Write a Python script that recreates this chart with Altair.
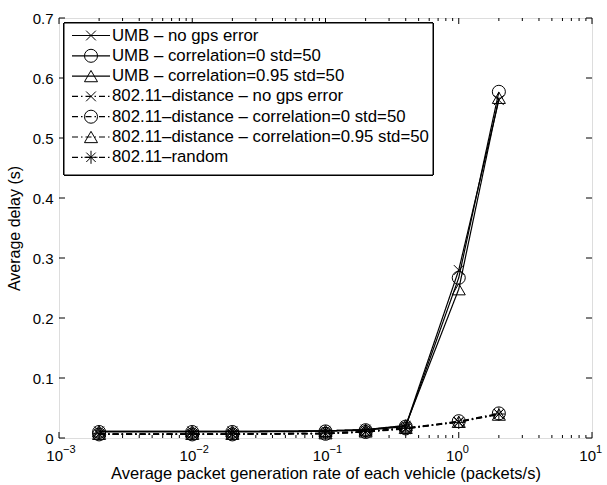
import altair as alt
import pandas as pd

# ---------------- data ----------------
rates = [0.002, 0.01, 0.02, 0.1, 0.2, 0.4, 1, 2]
series_names = [
    "UMB \u2013 no gps error",
    "UMB \u2013 correlation=0 std=50",
    "UMB \u2013 correlation=0.95 std=50",
    "802.11\u2013distance \u2013 no gps error",
    "802.11\u2013distance \u2013 correlation=0 std=50",
    "802.11\u2013distance \u2013 correlation=0.95 std=50",
    "802.11\u2013random",
]
umb_no_err = [0.011, 0.011, 0.011, 0.012, 0.014, 0.020, 0.280, 0.563]
umb_c0 = [0.010, 0.010, 0.010, 0.011, 0.013, 0.019, 0.267, 0.577]
umb_c95 = [0.011, 0.011, 0.011, 0.012, 0.014, 0.021, 0.248, 0.567]
dist_no_err = [0.006, 0.006, 0.006, 0.007, 0.010, 0.015, 0.027, 0.040]
dist_c0 = [0.006, 0.006, 0.006, 0.007, 0.010, 0.016, 0.028, 0.041]
dist_c95 = [0.007, 0.007, 0.007, 0.008, 0.011, 0.017, 0.027, 0.039]
random_sel = [0.007, 0.007, 0.007, 0.008, 0.011, 0.016, 0.026, 0.040]
all_values = [umb_no_err, umb_c0, umb_c95, dist_no_err, dist_c0, dist_c95, random_sel]

x_major = [0.001, 0.01, 0.1, 1, 10]
x_exponents = ["\u22123", "\u22122", "\u22121", "0", "1"]
y_ticks = [0, 0.1, 0.2, 0.3, 0.4, 0.5, 0.6, 0.7]

# ---------------- styles ----------------
FONT = "Liberation Sans"
W, H = 533, 420
X_PATH = "M-0.75,-0.75L0.75,0.75M-0.75,0.75L0.75,-0.75"
STAR_PATH = "M-1,0L1,0M0,-1L0,1M-0.72,-0.72L0.72,0.72M-0.72,0.72L0.72,-0.72"
shape_range = [X_PATH, "circle", "triangle-up", X_PATH, "circle", "triangle-up", STAR_PATH]
solid = [1, 0]
dashdot = [6, 3, 1.5, 3]
dash_range = [solid, solid, solid, dashdot, dashdot, dashdot, dashdot]

rows = []
for name, vals in zip(series_names, all_values):
    for r, v in zip(rates, vals):
        rows.append({"series": name, "rate": r, "delay": v})
df = pd.DataFrame(rows)

xscale = alt.Scale(type="log", domain=[0.001, 10])
yscale = alt.Scale(domain=[0, 0.7])
shape_scale = alt.Scale(domain=series_names, range=shape_range)
dash_scale = alt.Scale(domain=series_names, range=dash_range)

x_enc = alt.X("rate:Q", scale=xscale,
              axis=alt.Axis(labels=False, ticks=False, domain=False, grid=False,
                            title="Average packet generation rate of each vehicle (packets/s)",
                            titleFont=FONT, titleFontSize=16.5, titleFontWeight="normal",
                            titleColor="black", titlePadding=27))
y_enc = alt.Y("delay:Q", scale=yscale,
              axis=alt.Axis(values=y_ticks, format=".1~f", tickSize=0, domain=False, grid=False,
                            labelFont=FONT, labelFontSize=15, labelColor="black",
                            labelPadding=6, title="Average delay (s)",
                            titleFont=FONT, titleFontSize=16, titleFontWeight="normal",
                            titleColor="black", titlePadding=10))

lines = alt.Chart(df).mark_line(color="black", strokeWidth=1.2).encode(
    x=x_enc, y=y_enc,
    detail="series:N",
    strokeDash=alt.StrokeDash("series:N", scale=dash_scale, legend=None),
)
points = alt.Chart(df).mark_point(filled=False, color="black", strokeWidth=1, size=170, opacity=1).encode(
    x=alt.X("rate:Q", scale=xscale), y=alt.Y("delay:Q", scale=yscale),
    shape=alt.Shape("series:N", scale=shape_scale, legend=None),
)

# ticks (inward, MATLAB style)
minor = [m * 10 ** e for e in range(-3, 1) for m in range(2, 10)]
maj_df = pd.DataFrame({"v": x_major})
min_df = pd.DataFrame({"v": minor})
yt_df = pd.DataFrame({"v": y_ticks})

def xtick(d, y0, y1):
    return alt.Chart(d).mark_rule(color="black", strokeWidth=1).encode(
        x=alt.X("v:Q", scale=xscale), y=alt.value(y0), y2=alt.value(y1))

def ytick(x0, x1):
    return alt.Chart(yt_df).mark_rule(color="black", strokeWidth=1).encode(
        y=alt.Y("v:Q", scale=yscale), x=alt.value(x0), x2=alt.value(x1))

ticks = [
    xtick(maj_df, H, H - 6), xtick(maj_df, 0, 6),
    xtick(min_df, H, H - 3), xtick(min_df, 0, 3),
    ytick(0, 6), ytick(W, W - 6),
]

lab_df = pd.DataFrame({"v": x_major, "exp": x_exponents, "base": ["10"] * len(x_major)})
lab10 = alt.Chart(lab_df).mark_text(font=FONT, fontSize=15, align="right", baseline="alphabetic",
                                    dx=4, color="black").encode(
    x=alt.X("v:Q", scale=xscale), y=alt.value(H + 23), text="base:N")
labexp = alt.Chart(lab_df).mark_text(font=FONT, fontSize=11, align="left", baseline="alphabetic",
                                     dx=4, color="black").encode(
    x=alt.X("v:Q", scale=xscale), y=alt.value(H + 15), text="exp:N")

main = alt.layer(lines, points, *ticks, lab10, labexp)

# ---------------- legend ----------------
ROW0, ROWH = 17.5, 20.3
leg_scale = alt.Scale(domain=[-ROW0 / ROWH, (H - ROW0) / ROWH], reverse=True)
leg_df = pd.DataFrame({"series": series_names, "row": list(range(len(series_names)))})
leg_y = alt.Y("row:Q", scale=leg_scale, axis=None)

box = alt.Chart(leg_df).mark_rect(fill="white", stroke="black", strokeWidth=1).encode(
    x=alt.value(5), x2=alt.value(374), y=alt.value(5), y2=alt.value(157))
leg_lines = alt.Chart(leg_df).mark_rule(color="black", strokeWidth=1.2).encode(
    x=alt.value(13), x2=alt.value(51), y=leg_y,
    strokeDash=alt.StrokeDash("series:N", scale=dash_scale, legend=None))
leg_pts = alt.Chart(leg_df).mark_point(filled=False, color="black", strokeWidth=1, size=170, opacity=1).encode(
    x=alt.value(32), y=leg_y,
    shape=alt.Shape("series:N", scale=shape_scale, legend=None))
leg_txt = alt.Chart(leg_df).mark_text(font=FONT, fontSize=16.8, align="left", baseline="middle",
                                      color="black").encode(
    x=alt.value(53), y=leg_y, text="series:N")

legend = alt.layer(box, leg_lines, leg_pts, leg_txt)

chart = alt.layer(main, legend).resolve_scale(y="independent").properties(
    width=W, height=H, autosize="none",
    padding={"left": 59, "top": 18, "right": 15, "bottom": 47},
).configure_view(stroke="black", strokeWidth=1).configure(background="white")

chart.save("out.html", embed_options={"renderer": "svg", "actions": False})
